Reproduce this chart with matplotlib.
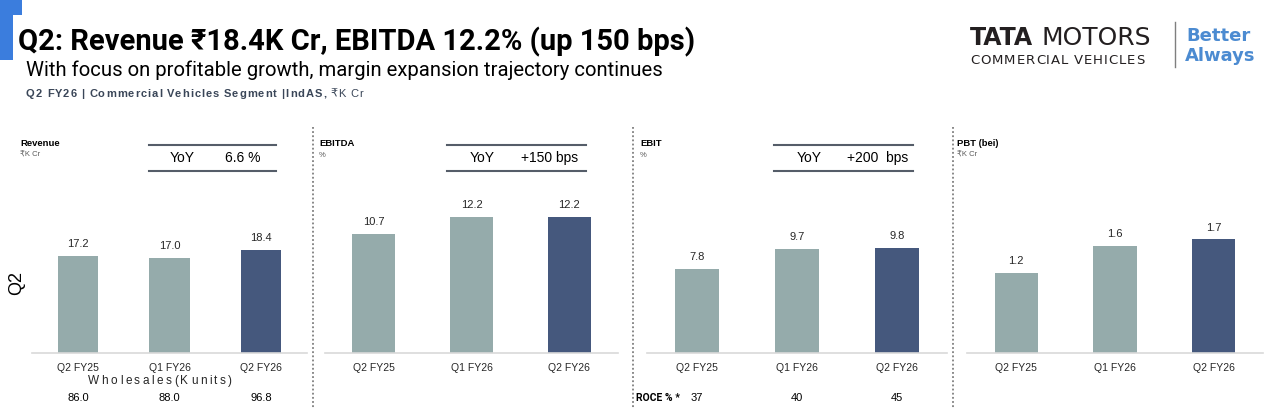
import matplotlib
matplotlib.use("Agg")
from matplotlib import pyplot as plt
from matplotlib import font_manager
from matplotlib.lines import Line2D
from matplotlib.patches import Rectangle

W, H = 1265, 408

categories = ["Q2 FY25", "Q1 FY26", "Q2 FY26"]
revenue = [17.2, 17.0, 18.4]
ebitda = [10.7, 12.2, 12.2]
ebit = [7.8, 9.7, 9.8]
pbt = [1.2, 1.6, 1.7]
wholesales = ["86.0", "88.0", "96.8"]
roce = ["37", "40", "45"]

panel_titles = ["Revenue", "EBITDA", "EBIT", "PBT (bei)"]
panel_units = ["₹K Cr", "%", "%", "₹K Cr"]
yoy_values = ["6.6 %", "+150 bps", "+200  bps", None]

LIGHT = "#95abab"
DARK = "#45587d"
TEXT = "#262626"

names = {f.name for f in font_manager.fontManager.ttflist}
narrow = "Liberation Sans Narrow" if "Liberation Sans Narrow" in names else "Roboto"
BODY = ["Liberation Sans", "DejaVu Sans"]
NARROW = [narrow, "DejaVu Sans"]
plt.rcParams["font.family"] = BODY

fig = plt.figure(figsize=(W / 100, H / 100), dpi=100)
renderer = fig.canvas.get_renderer()


def fx(x):
    return x / W


def fy(y):
    return 1 - y / H


def spaced(x, y, s, gap, **kw):
    # draw text char by char to imitate letter spacing
    cx = x
    for ch in s:
        t = fig.text(fx(cx), fy(y), ch, va="baseline", **kw)
        w = t.get_window_extent(renderer).width
        if ch == " ":
            w = kw.get("fontsize", 10) * 0.35
        cx += w + gap
    return cx


def hline(x0, x1, y, **kw):
    fig.add_artist(Line2D([fx(x0), fx(x1)], [fy(y), fy(y)], transform=fig.transFigure, **kw))


def vline(x, y0, y1, **kw):
    fig.add_artist(Line2D([fx(x), fx(x)], [fy(y0), fy(y1)], transform=fig.transFigure, **kw))


# header accent
fig.add_artist(Rectangle((fx(0), fy(60)), fx(13), 45 / H, transform=fig.transFigure, color="#3b7ddd", lw=0))
fig.add_artist(Rectangle((fx(0), fy(15)), fx(22), 15 / H, transform=fig.transFigure, color="#3b7ddd", lw=0))

fig.text(fx(18), fy(50), "Q2: Revenue ₹18.4K Cr, EBITDA 12.2% (up 150 bps)",
         fontsize=21, fontweight="bold", family=NARROW, color="black", va="baseline")
fig.text(fx(26), fy(76), "With focus on profitable growth, margin expansion trajectory continues",
         fontsize=14.6, family=NARROW, color="black", va="baseline")
end = spaced(26, 97, "Q2 FY26 | Commercial Vehicles Segment |IndAS,", 1.0,
             fontsize=8, fontweight="bold", color="#3a4658")
spaced(end + 3, 97, "₹K Cr", 1.0, fontsize=8, color="#3a4658")

# logo
fig.text(fx(970), fy(45), "TATA", fontsize=17, fontweight="heavy", family=["DejaVu Sans"],
         color="#231f20", va="baseline")
fig.text(fx(1041), fy(45), "MOTORS", fontsize=18, family=["DejaVu Sans"], color="#231f20", va="baseline")
spaced(970, 64, "COMMERCIAL VEHICLES", 1.0, fontsize=9.5, family=["DejaVu Sans"], color="#231f20")
vline(1175, 22, 67, color="#7f7f7f", lw=1)
fig.text(fx(1186), fy(41), "Better", fontsize=13, fontweight="bold", family=["DejaVu Sans"],
         color="#4c8bd1", va="baseline")
fig.text(fx(1185), fy(61), "Always", fontsize=13, fontweight="bold", family=["DejaVu Sans"],
         color="#4c8bd1", va="baseline")

# panels: (axis left, axis right, y max) in pixel layout
panels = [
    (32, 307, 30.8, revenue),
    (325, 618, 15.5, ebitda),
    (647, 947, 16.1, ebit),
    (967, 1263, 2.59, pbt),
]
title_x = [20, 319, 640, 957]
yoy_box = [(149, 276, 182, 243), (447, 586, 482, 550), (774, 913, 809, 878), None]
top, base = 180, 353

for i, (x0, x1, ymax, vals) in enumerate(panels):
    ax = fig.add_axes([fx(x0), fy(base), (x1 - x0) / W, (base - top) / H])
    colors = [LIGHT, LIGHT, DARK]
    bars = ax.bar(range(len(categories)), vals, width=0.44, color=colors)
    ax.set_xlim(-0.5, 2.5)
    ax.set_ylim(0, ymax)
    for b, v in zip(bars, vals):
        ax.annotate(f"{v:.1f}", (b.get_x() + b.get_width() / 2, v), xytext=(0, 5),
                    textcoords="offset points", ha="center", va="bottom", fontsize=8, color=TEXT)
    ax.set_xticks(range(len(categories)), categories, fontsize=7.5, color=TEXT)
    ax.tick_params(length=0, pad=7)
    ax.set_yticks([])
    for s in ["top", "left", "right"]:
        ax.spines[s].set_visible(False)
    ax.spines["bottom"].set_color("#d9d9d9")
    ax.spines["bottom"].set_linewidth(1.2)
    ax.patch.set_alpha(0)

    fig.text(fx(title_x[i]), fy(146), panel_titles[i], fontsize=6.8, fontweight="bold",
             color="black", va="baseline")
    fig.text(fx(title_x[i]), fy(157), panel_units[i], fontsize=5.5, color="#595959", va="baseline")

    if yoy_box[i]:
        bx0, bx1, tx1, tx2 = yoy_box[i]
        hline(bx0, bx1, 145, color="#555d69", lw=1.5)
        hline(bx0, bx1, 171, color="#555d69", lw=1.5)
        fig.text(fx(tx1), fy(158), "YoY", fontsize=10, ha="center", va="center", color="black")
        fig.text(fx(tx2), fy(158), yoy_values[i], fontsize=10, ha="center", va="center", color="black")

    if i == 0:
        centers = [ax.transData.transform((k, 0))[0] for k in range(3)]
        for c, w in zip(centers, wholesales):
            fig.text(c / W, fy(398), w, fontsize=8, ha="center", va="center", color="black")
    if i == 2:
        centers = [ax.transData.transform((k, 0))[0] for k in range(3)]
        for c, r in zip(centers, roce):
            fig.text(c / W, fy(398), r, fontsize=8, ha="center", va="center", color="black")
        fig.text(fx(636), fy(398), "ROCE % *", fontsize=7.5, fontweight="bold", family=NARROW,
                 ha="left", va="center", color="black")

spaced(88, 384, "Wholesales(Kunits)", 2.5, fontsize=8.5, color="#262626")
fig.text(fx(17), fy(283), "Q2", rotation=90, fontsize=13, ha="center", va="center", color="black")

for x in [313, 633, 953]:
    vline(x, 127, 408, color="#7f7f7f", lw=1.3, ls=(0, (1, 1.3)))

fig.savefig("out.png", dpi=100)
